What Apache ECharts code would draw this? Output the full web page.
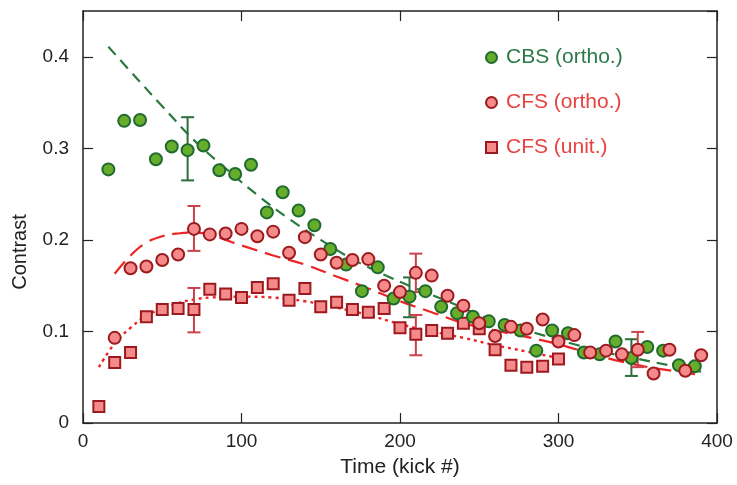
<!DOCTYPE html>
<html>
<head>
<meta charset="utf-8">
<script src="https://cdn.jsdelivr.net/npm/echarts@6/dist/echarts.min.js"></script>
<style>html,body{margin:0;padding:0;background:#fff}#c{width:737px;height:485px}</style>
</head>
<body>
<div id="c"></div>
<script>
// ---- data ----
const cbsX = [16,26,36,46,56,66,76,86,96,106,116,126,136,146,156,166,176,186,196,206,216,226,236,246,256,266,276,286,296,306,316,326,336,346,356,366,376,386];
const cbsY = [0.277,0.330,0.331,0.288,0.302,0.298,0.303,0.276,0.272,0.282,0.230,0.252,0.232,0.216,0.190,0.173,0.144,0.170,0.136,0.138,0.144,0.127,0.120,0.116,0.111,0.107,0.101,0.079,0.101,0.098,0.077,0.075,0.089,0.071,0.083,0.079,0.063,0.062];

const cfsOX = [20,30,40,50,60,70,80,90,100,110,120,130,140,150,160,170,180,190,200,210,220,230,240,250,260,270,280,290,300,310,320,330,340,350,360,370,380,390];
const cfsOY = [0.093,0.169,0.171,0.178,0.184,0.212,0.206,0.207,0.212,0.204,0.209,0.186,0.203,0.184,0.175,0.178,0.179,0.150,0.143,0.164,0.161,0.139,0.128,0.109,0.095,0.105,0.103,0.113,0.089,0.096,0.077,0.079,0.075,0.080,0.054,0.080,0.057,0.074];

const cfsUX = [10,20,30,40,50,60,70,80,90,100,110,120,130,140,150,160,170,180,190,200,210,220,230,240,250,260,270,280,290,300];
const cfsUY = [0.018,0.066,0.077,0.116,0.124,0.125,0.124,0.146,0.141,0.137,0.148,0.152,0.134,0.147,0.127,0.132,0.124,0.121,0.125,0.104,0.097,0.101,0.098,0.109,0.103,0.080,0.063,0.061,0.062,0.070];

// fit curves
const fitCbsX = [16,30,50,70,90,110,130,150,170,190,210,230,250,270,290,310,330,350,370,390];
const fitCbsY = [0.411,0.384,0.346,0.309,0.278,0.249,0.223,0.200,0.179,0.162,0.147,0.133,0.118,0.106,0.096,0.086,0.077,0.070,0.063,0.056];

const fitCfsOX = [20,30,40,50,60,70,80,90,100,120,140,160,180,200,220,240,260,280,300,320,340,360,380,390];
const fitCfsOY = [0.163,0.183,0.197,0.204,0.207,0.208,0.206,0.200,0.194,0.183,0.173,0.160,0.147,0.133,0.121,0.109,0.101,0.094,0.086,0.076,0.067,0.060,0.055,0.052];

const fitCfsUX = [10,20,30,40,50,60,70,80,100,120,140,160,180,200,220,240,260,280,300];
const fitCfsUY = [0.061,0.087,0.104,0.117,0.125,0.131,0.135,0.137,0.138,0.137,0.133,0.126,0.118,0.108,0.100,0.093,0.085,0.078,0.071];

// error bars: [x, low, high]
const errCbs  = [[66,0.265,0.334],[206,0.1155,0.159],[346,0.0514,0.0915]];
const errCfsO = [[70,0.188,0.237],[210,0.143,0.185],[350,0.061,0.0995]];
const errCfsU = [[70,0.099,0.1475],[210,0.074,0.118]];

const xTicks = [0,100,200,300,400];
const yTicks = [0,0.1,0.2,0.3,0.4];
const xTitle = 'Time (kick #)';
const yTitle = 'Contrast';

// ---- styling ----
const FONT = 'Liberation Sans, Arial, sans-serif';
const GREEN_FILL = '#67ad2c', GREEN_EDGE = '#1f6a2e', GREEN_LINE = '#2a7a3e', GREEN_ERR = '#2b6d3b';
const RED_FILL = '#f48a8a', RED_EDGE = '#9c1a1f', RED_LINE = '#ee2424', RED_ERR = '#c9434b';
const AX = '#222';

function zip(a,b){ return a.map((v,i)=>[v,b[i]]); }

function errSeries(data, color){
  return {
    type:'custom', data:data, z:3, silent:true,
    renderItem:function(params, api){
      const x=api.value(0), lo=api.value(1), hi=api.value(2);
      const pLo=api.coord([x,lo]), pHi=api.coord([x,hi]);
      const w=6.5;
      const st={stroke:color, lineWidth:2};
      return {type:'group', children:[
        {type:'line', shape:{x1:pLo[0],y1:pLo[1],x2:pHi[0],y2:pHi[1]}, style:st},
        {type:'line', shape:{x1:pLo[0]-w,y1:pLo[1],x2:pLo[0]+w,y2:pLo[1]}, style:st},
        {type:'line', shape:{x1:pHi[0]-w,y1:pHi[1],x2:pHi[0]+w,y2:pHi[1]}, style:st}
      ]};
    },
    encode:{x:0,y:[1,2]}
  };
}

const chart = echarts.init(document.getElementById('c'));
const option = {
  animation:false,
  backgroundColor:'#fff',
  grid:{left:83, right:20, top:11, bottom:62},
  graphic:[{
    type:'text', x:20, y:252, rotation:Math.PI/2,
    style:{text:yTitle, fontFamily:FONT, fontSize:20, fill:AX, textAlign:'center', textVerticalAlign:'middle'}
  }],
  legend:{
    orient:'vertical', left:480, top:42, itemGap:24, padding:5,
    itemWidth:11, itemHeight:11,
    textStyle:{fontFamily:FONT, fontSize:21, padding:[0,0,0,4]},
    data:[
      {name:'CBS (ortho.)', icon:'circle', textStyle:{color:'#2a7a46'}},
      {name:'CFS (ortho.)', icon:'circle', textStyle:{color:'#e8413f'}},
      {name:'CFS (unit.)', icon:'rect', textStyle:{color:'#e8413f'}}
    ]
  },
  xAxis:[{
    type:'value', min:xTicks[0], max:xTicks[xTicks.length-1], interval:100,
    name:xTitle, nameLocation:'middle', nameGap:34,
    nameTextStyle:{fontFamily:FONT, fontSize:21, color:AX},
    axisLine:{show:true, lineStyle:{color:AX, width:1.5}},
    axisTick:{show:true, inside:true, length:10, lineStyle:{color:AX, width:1.2}},
    axisLabel:{fontFamily:FONT, fontSize:19, color:AX, margin:9},
    splitLine:{show:false}
  },{
    type:'value', position:'top', min:xTicks[0], max:xTicks[xTicks.length-1], interval:100,
    axisLine:{show:true, onZero:false, lineStyle:{color:AX, width:1.5}},
    axisTick:{show:true, inside:true, length:10, lineStyle:{color:AX, width:1.2}},
    axisLabel:{show:false}, splitLine:{show:false}
  }],
  yAxis:[{
    type:'value', min:yTicks[0], max:0.45, interval:0.1,
    axisLine:{show:true, lineStyle:{color:AX, width:1.5}},
    axisTick:{show:true, inside:true, length:10, lineStyle:{color:AX, width:1.2}},
    axisLabel:{fontFamily:FONT, fontSize:19, color:AX, margin:14, showMaxLabel:false,
      formatter:function(v){ return yTicks.some(t=>Math.abs(t-v)<1e-9) ? String(+v.toFixed(2)) : ''; }},
    splitLine:{show:false}
  },{
    type:'value', position:'right', min:yTicks[0], max:0.45, interval:0.1,
    axisLine:{show:true, onZero:false, lineStyle:{color:AX, width:1.5}},
    axisTick:{show:true, inside:true, length:10, lineStyle:{color:AX, width:1.2}},
    axisLabel:{show:false}, splitLine:{show:false}
  }],
  series:[
    {name:'fitCBS', type:'line', data:zip(fitCbsX,fitCbsY), smooth:0.4, showSymbol:false, silent:true, z:2,
      lineStyle:{color:GREEN_LINE, width:2.2, type:[11,7]}},
    {name:'fitCFSo', type:'line', data:zip(fitCfsOX,fitCfsOY), smooth:0.4, showSymbol:false, silent:true, z:2,
      lineStyle:{color:RED_LINE, width:2.2, type:[16,8]}},
    {name:'fitCFSu', type:'line', data:zip(fitCfsUX,fitCfsUY), smooth:0.4, showSymbol:false, silent:true, z:2,
      lineStyle:{color:RED_LINE, width:2.4, type:[3,4]}},
    errSeries(errCbs, GREEN_ERR),
    errSeries(errCfsO, RED_ERR),
    errSeries(errCfsU, RED_ERR),
    {name:'CFS (unit.)', type:'scatter', data:zip(cfsUX,cfsUY), symbol:'rect', symbolSize:11, z:4,
      itemStyle:{color:RED_FILL, borderColor:RED_EDGE, borderWidth:2, opacity:1}},
    {name:'CBS (ortho.)', type:'scatter', data:zip(cbsX,cbsY), symbol:'circle', symbolSize:12, z:5,
      itemStyle:{color:GREEN_FILL, borderColor:GREEN_EDGE, borderWidth:2, opacity:1}},
    {name:'CFS (ortho.)', type:'scatter', data:zip(cfsOX,cfsOY), symbol:'circle', symbolSize:12, z:6,
      itemStyle:{color:RED_FILL, borderColor:RED_EDGE, borderWidth:2, opacity:1}}
  ]
};
chart.setOption(option);
</script>
</body>
</html>
